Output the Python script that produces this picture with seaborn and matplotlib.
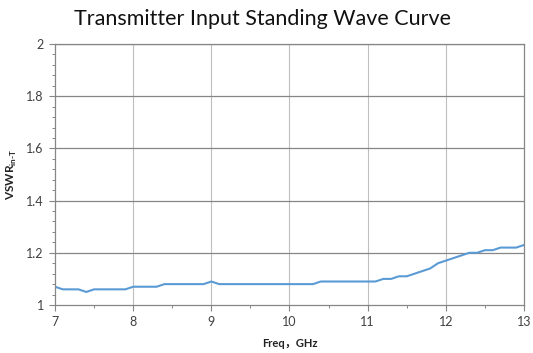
import numpy as np
import pandas as pd
import matplotlib
matplotlib.use("Agg")
import matplotlib.pyplot as plt
from matplotlib.ticker import MultipleLocator
import seaborn as sns

freq_ghz = [7.0, 7.1, 7.2, 7.3, 7.4, 7.5, 7.6, 7.7, 7.8, 7.9,
            8.0, 8.1, 8.2, 8.3, 8.4, 8.5, 8.6, 8.7, 8.8, 8.9,
            9.0, 9.1, 9.2, 9.3, 9.4, 9.5, 9.6, 9.7, 9.8, 9.9,
            10.0, 10.1, 10.2, 10.3, 10.4, 10.5, 10.6, 10.7, 10.8, 10.9,
            11.0, 11.1, 11.2, 11.3, 11.4, 11.5, 11.6, 11.7, 11.8, 11.9,
            12.0, 12.1, 12.2, 12.3, 12.4, 12.5, 12.6, 12.7, 12.8, 12.9,
            13.0]
vswr = [1.07, 1.06, 1.06, 1.06, 1.05, 1.06, 1.06, 1.06, 1.06, 1.06,
        1.07, 1.07, 1.07, 1.07, 1.08, 1.08, 1.08, 1.08, 1.08, 1.08,
        1.09, 1.08, 1.08, 1.08, 1.08, 1.08, 1.08, 1.08, 1.08, 1.08,
        1.08, 1.08, 1.08, 1.08, 1.09, 1.09, 1.09, 1.09, 1.09, 1.09,
        1.09, 1.09, 1.10, 1.10, 1.11, 1.11, 1.12, 1.13, 1.14, 1.16,
        1.17, 1.18, 1.19, 1.20, 1.20, 1.21, 1.21, 1.22, 1.22, 1.22,
        1.23]
x_ticks = [7, 8, 9, 10, 11, 12, 13]
y_ticks = [1, 1.2, 1.4, 1.6, 1.8, 2]
y_tick_labels = ["1", "1.2", "1.4", "1.6", "1.8", "2"]

df = pd.DataFrame({"freq": freq_ghz, "vswr": vswr})

sns.set_style("white")
plt.rcParams["font.family"] = ["Lato", "Noto Sans CJK SC", "DejaVu Sans"]
plt.rcParams["mathtext.fontset"] = "custom"
plt.rcParams["mathtext.bf"] = "Lato:bold"
plt.rcParams["mathtext.rm"] = "Lato:bold"

fig = plt.figure(figsize=(5.33, 3.53), dpi=100)
ax = fig.add_axes([55 / 533, 1 - 305 / 353, (524 - 55) / 533, (305 - 44) / 353])

sns.lineplot(data=df, x="freq", y="vswr", ax=ax, color="#5B9BD5", linewidth=1.5)

ax.set_xlim(7, 13)
ax.set_ylim(1, 2)
ax.set_xticks(x_ticks)
ax.set_xticklabels([str(v) for v in x_ticks], fontsize=9, color="#404040")
ax.set_yticks(y_ticks)
ax.set_yticklabels(y_tick_labels, fontsize=9, color="#404040")
ax.xaxis.set_minor_locator(MultipleLocator(0.5))
ax.yaxis.set_minor_locator(MultipleLocator(0.04))

ax.grid(False)
for xv in x_ticks[1:-1]:
    ax.axvline(xv, color="#BFBFBF", linewidth=0.8, zorder=0)
for yv in y_ticks[1:]:
    ax.axhline(yv, color="#868686", linewidth=0.9, zorder=0)

for side in ["left", "bottom", "right", "top"]:
    ax.spines[side].set_color("#868686")
    ax.spines[side].set_linewidth(0.9)

ax.tick_params(axis="both", which="major", direction="out", length=4,
               width=0.8, color="#868686", pad=4)
ax.tick_params(axis="both", which="minor", direction="out", length=2.5,
               width=0.7, color="#868686")
ax.tick_params(axis="x", which="both", bottom=True)
ax.tick_params(axis="y", which="both", left=True)

ax.set_xlabel("Freq，GHz", fontsize=8, fontweight="bold", color="#222222",
              family=["Lato", "Noto Sans CJK SC"], labelpad=7)
ax.set_ylabel(r"$\mathbf{VSWR}_{\mathbf{in}\text{-}\mathbf{T}}$", fontsize=8.5,
              color="#222222")
ax.yaxis.set_label_coords(-36 / 469, 0.5)

fig.text(0.492, 0.945, "Transmitter Input Standing Wave Curve", ha="center",
         va="center", fontsize=15.5, color="#111111")

fig.savefig("out.png", dpi=100)
